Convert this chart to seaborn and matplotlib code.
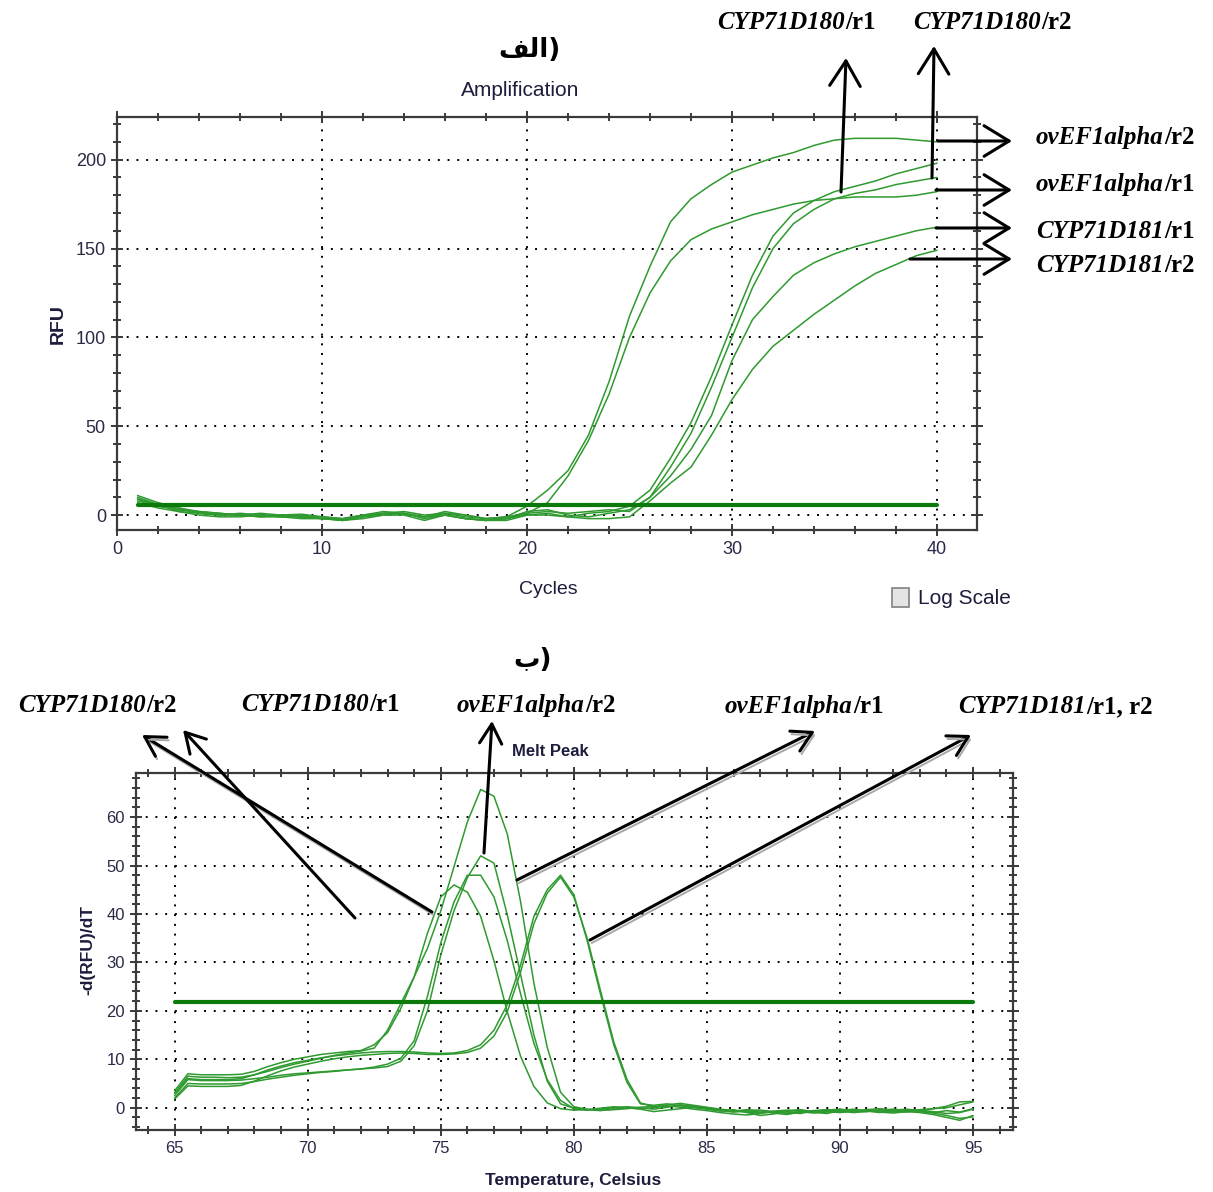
import numpy as np
import pandas as pd
import matplotlib
matplotlib.use("Agg")
import matplotlib.pyplot as plt
import matplotlib.patheffects as pe
from matplotlib.patches import Rectangle, FancyArrowPatch
from matplotlib.ticker import MultipleLocator
import seaborn as sns

# ---------------- data: amplification ----------------
cycles = list(range(1, 41))
amp_ovEF1alpha_r2 = [9.0, 6.0, 3.0, 1.5, 0.5, 0.0, -1.0, 0.0, 0.5, -1.0, -2.0, 0.0, 1.0, 0.5, -1.0, 1.0, 0.0, -2.0, -1.0, 5.0,
                     14.0, 25.0, 45.0, 75.0, 112.0, 140.0, 165.0, 178.0, 186.0, 193.0, 197.0, 201.0, 204.0, 208.0, 211.0, 212.0, 212.0, 212.0, 211.0, 210.0]
amp_ovEF1alpha_r1 = [11.0, 7.0, 4.0, 2.0, 1.0, 0.0, 0.0, -1.0, -1.0, -2.0, -3.0, -1.0, 1.0, 1.0, -2.0, 0.0, -2.0, -3.0, -2.0, 1.0,
                     7.0, 22.0, 42.0, 68.0, 100.0, 125.0, 143.0, 155.0, 161.0, 165.0, 169.0, 172.0, 175.0, 177.0, 178.0, 179.0, 179.0, 179.0, 180.0, 182.0]
amp_CYP71D180_r1 = [8.0, 5.0, 3.0, 2.0, 1.0, 0.0, 1.0, 0.0, -1.0, -2.0, -2.5, 0.0, 1.0, 2.0, 0.0, 1.0, -1.0, -2.0, -2.0, 0.0,
                    1.0, -1.0, 1.0, 2.0, 5.0, 14.0, 32.0, 52.0, 78.0, 107.0, 135.0, 157.0, 170.0, 177.0, 182.0, 185.0, 188.0, 192.0, 195.0, 198.0]
amp_CYP71D180_r2 = [10.0, 6.0, 2.0, 0.0, -1.0, -1.0, 0.0, -1.0, 0.0, -1.0, -3.0, -1.0, 0.0, 1.0, -1.0, 0.0, -2.0, -3.0, -2.0, 2.0,
                    3.0, 0.0, -1.0, 1.0, 3.0, 10.0, 27.0, 46.0, 72.0, 100.0, 128.0, 150.0, 164.0, 172.0, 178.0, 181.0, 183.0, 186.0, 188.0, 190.0]
amp_CYP71D181_r1 = [9.0, 5.0, 4.0, 1.0, 0.0, 1.0, 0.0, 0.0, -1.0, -1.0, -2.0, 0.0, 2.0, 1.0, -1.0, 2.0, 0.0, -2.0, -1.0, 1.0,
                    2.0, 1.0, 2.0, 3.0, 2.0, 10.0, 22.0, 37.0, 56.0, 87.0, 110.0, 123.0, 135.0, 142.0, 147.0, 151.0, 154.0, 157.0, 160.0, 162.0]
amp_CYP71D181_r2 = [7.0, 4.0, 2.0, 1.0, 0.0, 0.0, -1.0, -1.0, -2.0, -2.0, -3.0, -2.0, 0.0, 0.0, -3.0, 0.0, -2.0, -3.0, -3.0, 0.0,
                    0.0, -1.0, -2.0, -2.0, -1.0, 8.0, 18.0, 27.0, 45.0, 65.0, 82.0, 95.0, 104.0, 113.0, 121.0, 129.0, 136.0, 141.0, 146.0, 149.0]
amp_threshold_cycles = [1, 40]
amp_threshold = [5.8, 5.8]

# ---------------- data: melt peak ----------------
temps = [65 + 0.5 * i for i in range(61)]
melt_ovEF1alpha_r1 = [3.0, 6.5, 6.3, 6.3, 6.2, 6.3, 6.8, 7.5, 8.3, 9.0, 9.6, 10.2, 10.8, 11.3, 11.7, 12.3, 16.0, 21.5, 27.0, 32.9,
                      40.6, 49.8, 59.0, 65.7, 64.3, 56.5, 42.5, 25.7, 12.5, 3.2, 0.2, -0.3, -0.5, -0.4, -0.2, 0.1,
                      0.3, 0.2, 0.5, 0.2, -0.2, -0.5, -0.8, -0.6, -0.9, -1.0, -0.6, -0.4, -0.8, -0.5, -0.3, -0.6, -0.4, -0.2, -0.5, -0.3, -0.6, -0.2, 0.3, 1.2, 1.3]
melt_ovEF1alpha_r2 = [2.5, 5.8, 5.6, 5.6, 5.6, 5.7, 6.0, 6.3, 6.7, 7.0, 7.2, 7.4, 7.6, 7.8, 8.0, 8.2, 8.5, 9.6, 12.8, 20.0,
                      31.5, 40.7, 47.5, 52.0, 50.5, 39.8, 27.5, 15.0, 5.5, 0.8, -0.1, -0.4, -0.6, -0.3, 0.0, -0.2,
                      0.0, 0.4, 0.1, -0.3, -0.6, -1.0, -1.3, -1.5, -1.2, -0.8, -0.9, -1.2, -0.7, -0.5, -0.9, -0.6, -0.8, -0.4, -0.7, -0.9, -0.5, -0.8, -1.2, -1.0, -0.3]
melt_CYP71D180_r1 = [2.0, 5.0, 4.9, 4.9, 4.9, 5.0, 5.4, 5.9, 6.3, 6.7, 7.0, 7.3, 7.5, 7.8, 8.0, 8.4, 9.0, 10.2, 13.8, 23.0,
                     34.0, 42.5, 48.0, 48.0, 43.5, 34.5, 23.5, 13.3, 5.8, 1.5, -0.2, -0.5, -0.3, 0.0, 0.2, 0.0,
                     -0.3, 0.1, 0.6, 0.3, 0.0, -0.4, -0.7, -0.4, -0.6, -1.1, -1.4, -0.9, -0.6, -0.8, -1.0, -0.7, -0.5, -0.9, -1.1, -0.8, -1.0, -1.4, -2.0, -2.6, -1.6]
melt_CYP71D180_r2 = [3.5, 7.0, 6.8, 6.8, 6.8, 6.9, 7.5, 8.5, 9.3, 10.0, 10.5, 11.0, 11.3, 11.6, 11.8, 13.0, 15.5, 20.5, 27.0, 36.0,
                     43.5, 46.0, 44.5, 39.5, 30.3, 19.8, 10.6, 4.4, 1.0, -0.2, -0.5, -0.4, -0.1, 0.2, 0.0, -0.3,
                     -0.8, -0.5, -0.2, 0.1, -0.3, -0.7, -0.4, -1.0, -1.6, -1.3, -0.8, -0.5, -0.9, -1.2, -0.6, -0.3, -0.7, -1.0, -0.6, -0.4, -0.8, -1.1, -1.6, -2.2, -1.9]
melt_CYP71D181_r1 = [3.0, 6.0, 5.8, 5.8, 5.8, 6.0, 6.8, 7.8, 8.6, 9.3, 9.8, 10.3, 10.7, 11.0, 11.3, 11.5, 11.6, 11.6, 11.5, 11.3,
                     11.2, 11.3, 11.8, 13.0, 16.0, 21.3, 29.5, 39.5, 45.0, 48.0, 44.0, 34.5, 23.5, 13.0, 5.2, 0.8,
                     0.5, 0.8, 0.4, 0.0, -0.2, -0.6, -0.9, -0.7, -0.5, -0.8, -1.2, -1.0, -0.6, -0.4, -0.7, -1.0, -0.8, -0.5, -0.3, -0.6, -0.4, -0.2, 0.0, 0.6, 1.2]
melt_CYP71D181_r2 = [1.8, 4.5, 4.4, 4.4, 4.4, 4.6, 5.5, 6.6, 7.6, 8.4, 9.0, 9.6, 10.1, 10.5, 10.8, 11.0, 11.2, 11.3, 11.2, 11.0,
                     11.0, 11.1, 11.4, 12.3, 14.8, 19.8, 28.0, 38.0, 44.3, 47.6, 43.5, 35.0, 24.2, 13.6, 5.8, 1.0,
                     0.2, 0.6, 0.9, 0.5, 0.1, -0.3, -0.6, -0.9, -1.1, -0.7, -0.5, -0.8, -1.1, -0.9, -0.6, -0.8, -0.6, -0.7, -0.9, -0.5, -0.7, -1.0, -0.6, -0.9, -0.2]
melt_threshold_temps = [65, 95]
melt_threshold = [21.8, 21.8]

amp_series = {
    "ovEF1alpha/r2": amp_ovEF1alpha_r2, "ovEF1alpha/r1": amp_ovEF1alpha_r1,
    "CYP71D180/r1": amp_CYP71D180_r1, "CYP71D180/r2": amp_CYP71D180_r2,
    "CYP71D181/r1": amp_CYP71D181_r1, "CYP71D181/r2": amp_CYP71D181_r2,
}
melt_series = {
    "ovEF1alpha/r1": melt_ovEF1alpha_r1, "ovEF1alpha/r2": melt_ovEF1alpha_r2,
    "CYP71D180/r1": melt_CYP71D180_r1, "CYP71D180/r2": melt_CYP71D180_r2,
    "CYP71D181/r1": melt_CYP71D181_r1, "CYP71D181/r2": melt_CYP71D181_r2,
}
df_amp = pd.DataFrame([(k, c, v) for k, vals in amp_series.items() for c, v in zip(cycles, vals)],
                      columns=["Well", "Cycle", "RFU"])
df_melt = pd.DataFrame([(k, t, v) for k, vals in melt_series.items() for t, v in zip(temps, vals)],
                       columns=["Well", "Temp", "dRFU"])

# ---------------- style ----------------
sns.set_theme(style="white")
plt.rcParams["font.family"] = ["Liberation Sans Narrow", "Liberation Sans", "DejaVu Sans"]

W, H = 1213, 1192
fig = plt.figure(figsize=(W / 100, H / 100), dpi=100)
fig.patch.set_facecolor("white")
renderer = fig.canvas.get_renderer()

GREEN = "#2f9a2f"
DGREEN = "#0b7a0b"
TICKC = "#2a2a48"
SPINE = "#3a3a3a"


def fpx(x, y):
    return (x / W, 1 - y / H)


ax1 = fig.add_axes([117 / W, 1 - 530 / H, 860 / W, 413 / H])
ax2 = fig.add_axes([136 / W, 1 - 1130 / H, 877 / W, 357 / H])

# amplification curves
sns.lineplot(data=df_amp, x="Cycle", y="RFU", hue="Well", units="Well", estimator=None,
             palette={k: GREEN for k in amp_series}, legend=False, linewidth=1.1, ax=ax1)
sns.lineplot(x=amp_threshold_cycles, y=amp_threshold, color=DGREEN, linewidth=3.0, ax=ax1)

# melt curves
sns.lineplot(data=df_melt, x="Temp", y="dRFU", hue="Well", units="Well", estimator=None,
             palette={k: GREEN for k in melt_series}, legend=False, linewidth=1.1, ax=ax2)
sns.lineplot(x=melt_threshold_temps, y=melt_threshold, color=DGREEN, linewidth=3.0, ax=ax2)


def style_axes(ax, xlim, ylim, xmaj, xmin, ymaj, ymin, fs):
    ax.set_xlim(*xlim)
    ax.set_ylim(*ylim)
    ax.xaxis.set_major_locator(MultipleLocator(xmaj))
    ax.xaxis.set_minor_locator(MultipleLocator(xmin))
    ax.yaxis.set_major_locator(MultipleLocator(ymaj))
    ax.yaxis.set_minor_locator(MultipleLocator(ymin))
    ax.grid(True, which="major", color="black", linestyle=(0, (1, 4)), linewidth=1.4)
    for s in ax.spines.values():
        s.set_color(SPINE)
        s.set_linewidth(1.6)
        s.set_visible(True)
    ax.tick_params(which="both", direction="inout", colors=SPINE, labelcolor=TICKC,
                   top=True, right=True, bottom=True, left=True, width=1.4, labelsize=fs)
    ax.tick_params(which="major", length=9)
    ax.tick_params(which="minor", length=6)
    ax.tick_params(axis="x", which="both", labeltop=False)
    ax.tick_params(axis="y", which="both", labelright=False)
    ax.set_xlabel("")
    ax.set_ylabel("")
    ax.set_facecolor("white")


style_axes(ax1, (0, 41.95), (-8.4, 224), 10, 2, 50, 10, 13)
style_axes(ax2, (63.55, 96.5), (-4.6, 69.1), 5, 1, 10, 2, 12)

# axis titles and labels
fig.text(*fpx(520, 91), "Amplification", ha="center", va="center", fontsize=15, color="#1c1c3c")
fig.text(*fpx(548, 590), "Cycles", ha="center", va="center", fontsize=14, color="#1c1c3c")
fig.text(*fpx(58, 324), "RFU", ha="center", va="center", rotation=90, fontsize=14,
         fontweight="bold", color="#1c1c3c", family=["Liberation Sans", "DejaVu Sans"])
fig.text(*fpx(550, 752), "Melt Peak", ha="center", va="center", fontsize=12, fontweight="bold",
         color="#1c1c3c", family=["Liberation Sans Narrow", "Liberation Sans"])
fig.text(*fpx(573, 1181), "Temperature, Celsius", ha="center", va="center", fontsize=12.5,
         fontweight="bold", color="#1c1c3c", family=["Liberation Sans Narrow", "Liberation Sans"])
fig.text(*fpx(88, 950), "-d(RFU)/dT", ha="center", va="center", rotation=90, fontsize=12.5,
         fontweight="bold", color="#1c1c3c", family=["Liberation Sans Narrow", "Liberation Sans"])

# Log scale checkbox
fig.add_artist(Rectangle(fpx(892, 607), 17 / W, 19 / H, transform=fig.transFigure,
                         facecolor="#e4e4e4", edgecolor="#8a8a8a", linewidth=1.3))
fig.text(*fpx(918, 598), "Log Scale", ha="left", va="center", fontsize=15, color="#1c1c3c")

# panel letters (Arabic, visual order with presentation forms)
fig.text(*fpx(530, 50), "\uFED2\uFEDF\uFE8D)", ha="center", va="center", fontsize=19,
         fontweight="bold", family=["DejaVu Sans"], color="black")
fig.text(*fpx(533, 660), "\uFE8F)", ha="center", va="center", fontsize=19,
         fontweight="bold", family=["DejaVu Sans"], color="black")

LBL = dict(fontsize=18, color="black", family=["Liberation Serif", "DejaVu Serif"], fontweight="bold",
           va="baseline", ha="left")


def label(x, y, gene, rest, ha="center"):
    yb = y + 7
    t1 = fig.text(0, 0, gene, style="italic", **LBL)
    t2 = fig.text(0, 0, rest, style="normal", **LBL)
    w1 = t1.get_window_extent(renderer).width
    w2 = t2.get_window_extent(renderer).width
    x0 = x - (w1 + w2) / 2 if ha == "center" else x
    t1.set_position(fpx(x0, yb))
    t2.set_position(fpx(x0 + w1 + 1, yb))


# top labels
label(796, 22, "CYP71D180", "/r1")
label(992, 22, "CYP71D180", "/r2")
label(1036, 137, "ovEF1alpha", "/r2", ha="left")
label(1036, 184, "ovEF1alpha", "/r1", ha="left")
label(1036, 231, "CYP71D181", "/r1", ha="left")
label(1036, 265, "CYP71D181", "/r2", ha="left")
# bottom labels
label(97, 705, "CYP71D180", "/r2")
label(320, 704, "CYP71D180", "/r1")
label(536, 705, "ovEF1alpha", "/r2")
label(804, 706, "ovEF1alpha", "/r1")
label(1055, 706, "CYP71D181", "/r1, r2")


def arrow(x0, y0, x1, y1, shadow=False, hl=0.9, hw=0.55, ms=20):
    kw = dict(arrowstyle=f"->,head_length={hl},head_width={hw}", lw=2.2, color="black",
              shrinkA=0, shrinkB=0, mutation_scale=ms)
    a = fig.add_artist(FancyArrowPatch(fpx(x0, y0), fpx(x1, y1), transform=fig.transFigure, **kw))
    if shadow:
        a.set_path_effects([pe.SimpleLineShadow(offset=(1.2, -2.2), shadow_color="#a8a8a8",
                                                alpha=1.0, linewidth=1.4),
                            pe.Normal()])


# top arrows
arrow(841, 192, 846, 58)
arrow(932, 178, 934, 46)
arrow(938, 141, 1012, 141)
arrow(936, 190, 1012, 190)
arrow(936, 228, 1012, 228)
arrow(910, 259, 1012, 259)
# bottom arrows
arrow(432, 912, 142, 735, shadow=True, hl=0.7, hw=0.4)
arrow(355, 918, 183, 730, hl=0.7, hw=0.4)
arrow(484, 853, 492, 721, hl=0.7, hw=0.4)
arrow(517, 880, 815, 731, shadow=True, hl=0.7, hw=0.4)
arrow(590, 940, 971, 735, shadow=True, hl=0.7, hw=0.4)

fig.savefig("out.png", dpi=100, facecolor="white")
